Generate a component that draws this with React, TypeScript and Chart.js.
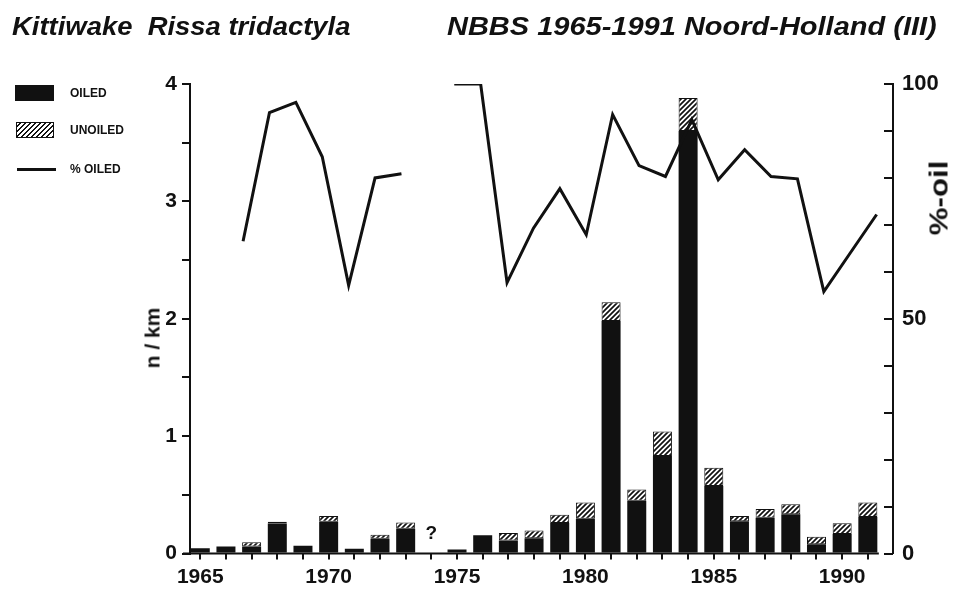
import React, { useEffect, useRef } from 'react';
import { Chart, registerables } from 'chart.js';

Chart.register(...registerables);

// ---- data ----
const years = [1965, 1966, 1967, 1968, 1969, 1970, 1971, 1972, 1973, 1974, 1975, 1976, 1977, 1978,
  1979, 1980, 1981, 1982, 1983, 1984, 1985, 1986, 1987, 1988, 1989, 1990, 1991];
const oiled = [0.045, 0.06, 0.06, 0.255, 0.065, 0.27, 0.04, 0.125, 0.21, null, 0.035, 0.155, 0.11, 0.13,
  0.26, 0.295, 1.98, 0.45, 0.83, 3.6, 0.575, 0.275, 0.305, 0.335, 0.078, 0.166, 0.31];
const unoiled = [null, null, 0.035, 0.015, null, 0.05, null, 0.035, 0.055, null, null, null, 0.065, 0.065,
  0.07, 0.14, 0.16, 0.095, 0.21, 0.28, 0.155, 0.045, 0.075, 0.085, 0.065, 0.092, 0.125];
const pctOiled = [null, null, 66.5, 93.9, 96.1, 84.5, 57.1, 80.0, 80.9, null, 100, 100, 57.7, 69.3,
  77.7, 67.9, 93.5, 82.6, 80.3, 92.4, 79.6, 86.0, 80.3, 79.8, 55.8, 64.0, 72.2];
const missingYear = 1974;
const xLabelYears = [1965, 1970, 1975, 1980, 1985, 1990];
const leftLabels = [0, 1, 2, 3, 4];
const rightLabels = [0, 50, 100];

const FONT = '"Liberation Sans", Arial, Helvetica, sans-serif';

function makeHatch(ctx: CanvasRenderingContext2D): CanvasPattern | string {
  const c = document.createElement('canvas');
  c.width = 5; c.height = 5;
  const g = c.getContext('2d');
  if (!g) return '#888';
  g.fillStyle = '#fff';
  g.fillRect(0, 0, 5, 5);
  g.strokeStyle = '#111';
  g.lineWidth = 1.7;
  g.beginPath();
  g.moveTo(-1, 6); g.lineTo(6, -1);
  g.moveTo(-1, 1); g.lineTo(1, -1);
  g.moveTo(4, 6); g.lineTo(6, 4);
  g.stroke();
  return ctx.createPattern(c, 'repeat') || '#888';
}

const extrasPlugin = {
  id: 'extras',
  afterDraw(chart: any) {
    const { ctx, chartArea, scales } = chart;
    const x = scales.x, yL = scales.y, yR = scales.yR;
    ctx.save();
    ctx.strokeStyle = '#111';
    ctx.lineWidth = 2;
    // bottom axis line up to the last bar
    ctx.beginPath();
    ctx.moveTo(chartArea.left - 7, chartArea.bottom);
    ctx.lineTo(x.getPixelForValue(years[years.length - 1]) + 11, chartArea.bottom);
    ctx.stroke();
    // inward ticks on the right axis
    ctx.beginPath();
    for (const t of yR.ticks) {
      const py = Math.round(yR.getPixelForValue(t.value));
      ctx.moveTo(chartArea.right - 9, py);
      ctx.lineTo(chartArea.right, py);
    }
    ctx.stroke();
    // missing-year mark
    ctx.fillStyle = '#111';
    ctx.font = `bold 19px ${FONT}`;
    ctx.textAlign = 'center';
    ctx.textBaseline = 'middle';
    ctx.fillText('?', x.getPixelForValue(missingYear), yL.getPixelForValue(0.17));
    ctx.restore();
  },
};

export default function App() {
  const canvasRef = useRef<HTMLCanvasElement | null>(null);

  useEffect(() => {
    const canvas = canvasRef.current;
    if (!canvas) return;
    const ctx = canvas.getContext('2d');
    if (!ctx) return;
    const hatch = makeHatch(ctx);
    const tickFont = { family: FONT, size: 21, weight: 'bold' as const };

    const barCommon = {
      type: 'bar' as const,
      xAxisID: 'x',
      yAxisID: 'y',
      grouped: false,
      stack: 'birds',
      maxBarThickness: 19,
      barPercentage: 0.9,
      categoryPercentage: 0.9,
    };

    const chart = new Chart(ctx, {
      type: 'bar',
      data: {
        datasets: [
          {
            ...barCommon,
            label: 'OILED',
            data: years.map((yr, i) => ({ x: yr, y: oiled[i] })),
            backgroundColor: '#111',
            borderColor: '#111',
            borderWidth: 0,
            order: 1,
          },
          {
            ...barCommon,
            label: 'UNOILED',
            data: years.map((yr, i) => ({ x: yr, y: unoiled[i] })),
            backgroundColor: hatch as any,
            borderColor: '#111',
            borderWidth: 1,
            borderSkipped: false,
            order: 2,
          },
          {
            type: 'line',
            label: '% OILED',
            data: years.map((yr, i) => ({ x: yr, y: pctOiled[i] })),
            xAxisID: 'xLine',
            yAxisID: 'yR',
            borderColor: '#111',
            borderWidth: 3,
            pointRadius: 0,
            tension: 0,
            spanGaps: false,
            borderJoinStyle: 'miter',
            order: 0,
          } as any,
        ],
      },
      options: {
        animation: false,
        responsive: false,
        devicePixelRatio: 1,
        layout: { padding: { top: 84, left: 0, right: 0, bottom: 0 } },
        plugins: { legend: { display: false }, tooltip: { enabled: false }, title: { display: false } },
        scales: {
          x: {
            type: 'linear',
            stacked: true,
            offset: false,
            min: 1964.6,
            max: 1991.98,
            afterFit: (s: any) => { s.height = 37.5; },
            border: { display: false },
            grid: { drawOnChartArea: false, drawTicks: true, tickLength: 6, color: '#111', lineWidth: 2, offset: false },
            ticks: {
              stepSize: 1,
              includeBounds: false,
              autoSkip: false,
              maxTicksLimit: 100,
              maxRotation: 0,
              padding: 5,
              color: '#111',
              font: tickFont,
              callback: (v: any) => (xLabelYears.includes(Number(v)) ? String(v) : ''),
            },
          },
          xLine: {
            type: 'linear',
            display: false,
            offset: false,
            min: 1964.99,
            max: 1991.62,
          },
          y: {
            type: 'linear',
            position: 'left',
            stacked: true,
            min: 0,
            max: 4,
            afterFit: (s: any) => { s.width = 190; },
            border: { display: true, color: '#111', width: 2 },
            grid: { drawOnChartArea: false, drawTicks: true, tickLength: 8, color: '#111', lineWidth: 2 },
            ticks: {
              stepSize: 0.5,
              autoSkip: false,
              padding: 5,
              color: '#111',
              font: tickFont,
              callback: (v: any) => (leftLabels.includes(Number(v)) ? String(v) : ''),
            },
          },
          yR: {
            type: 'linear',
            position: 'right',
            min: 0,
            max: 100,
            afterFit: (s: any) => { s.width = 64; },
            border: { display: true, color: '#111', width: 2 },
            grid: { display: true, drawOnChartArea: false, drawTicks: false, tickLength: 0 },
            ticks: {
              stepSize: 10,
              autoSkip: false,
              padding: 9,
              color: '#111',
              font: { family: FONT, size: 22, weight: 'bold' as const },
              callback: (v: any) => (rightLabels.includes(Number(v)) ? String(v) : ''),
            },
          },
        },
      },
      plugins: [extrasPlugin],
    });
    return () => chart.destroy();
  }, []);

  const txt: React.CSSProperties = { position: 'absolute', fontFamily: FONT, color: '#111', whiteSpace: 'nowrap' };
  const legendText: React.CSSProperties = { ...txt, fontSize: 12, fontWeight: 'bold', lineHeight: '16px' };
  const titleText: React.CSSProperties = { ...txt, top: 13, fontSize: 26, lineHeight: '26px', fontWeight: 'bold',
    fontStyle: 'italic', transformOrigin: '0 50%' };

  return (
    <div style={{ position: 'fixed', left: 0, top: 0, width: 957, height: 591, background: '#fff', overflow: 'hidden' }}>
      <canvas ref={canvasRef} width={957} height={591} style={{ position: 'absolute', left: 0, top: 0, width: 957, height: 591 }} />
      <div style={{ ...titleText, left: 12, transform: 'scaleX(1.055)' }}>
        Kittiwake&nbsp;&nbsp;Rissa tridactyla
      </div>
      <div style={{ ...titleText, left: 447, transform: 'scaleX(1.115)' }}>
        NBBS 1965-1991 Noord-Holland (III)
      </div>

      <div style={{ position: 'absolute', left: 15, top: 85, width: 39, height: 16, background: '#111' }} />
      <div style={{ ...legendText, left: 70, top: 85 }}>OILED</div>
      <div style={{ position: 'absolute', left: 16, top: 122, width: 36, height: 14, border: '1px solid #111',
        background: 'repeating-linear-gradient(-45deg, #111 0 1.4px, #fff 1.4px 3.6px)' }} />
      <div style={{ ...legendText, left: 70, top: 122 }}>UNOILED</div>
      <div style={{ position: 'absolute', left: 17, top: 168, width: 39, height: 3, background: '#111' }} />
      <div style={{ ...legendText, left: 70, top: 161 }}>% OILED</div>

      <div style={{ ...txt, left: 152, top: 338, fontSize: 21, lineHeight: '21px', fontWeight: 'bold',
        transform: 'translate(-50%, -50%) rotate(-90deg)' }}>n / km</div>
      <div style={{ ...txt, left: 939, top: 198, fontSize: 25, lineHeight: '25px', fontWeight: 'bold',
        transform: 'translate(-50%, -50%) rotate(-90deg) scaleX(1.25)' }}>%-oil</div>
    </div>
  );
}
